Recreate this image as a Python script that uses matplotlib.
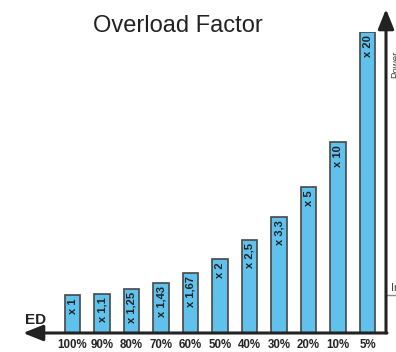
import numpy as np
import matplotlib
matplotlib.use("Agg")
import matplotlib.pyplot as plt
import matplotlib.transforms as mtransforms

plt.rcParams['font.family'] = ['Liberation Sans', 'DejaVu Sans']

# duty cycle (ED) and the allowed overload factor for each one
duty = ["100%", "90%", "80%", "70%", "60%", "50%", "40%", "30%", "20%", "10%", "5%"]
factors = [1, 1.1, 1.25, 1.43, 1.67, 2, 2.5, 3.3, 5, 10, 20]
factor_labels = ["x 1", "x 1,1", "x 1,25", "x 1,43", "x 1,67", "x 2",
                 "x 2,5", "x 3,3", "x 5", "x 10", "x 20"]
# height each factor is drawn at on the power axis (the axis is not linear)
power_levels = [38, 39, 44, 50, 60, 74, 93, 116, 146, 191, 301]

W, H = 396, 352
ink = "#222222"

xp = np.array([0] + factors, dtype=float)
fp = np.array([0] + power_levels, dtype=float)


def to_level(v):
    return np.interp(v, xp, fp)


def from_level(h):
    return np.interp(h, fp, xp)


fig = plt.figure(figsize=(W / 100, H / 100), dpi=100)
ax = fig.add_axes([23 / W, 19 / H, 363 / W, 301 / H])
ax.set_yscale('function', functions=(to_level, from_level))

x = np.arange(len(duty))
ax.bar(x, factors, width=0.54, color="#5FC1EC", edgecolor="#474747", linewidth=1.2)

for xi, v, lab in zip(x, factors, factor_labels):
    ax.annotate(lab, (xi, v), xytext=(0, -2.2), textcoords='offset points',
                rotation=90, ha='center', va='top', fontsize=8,
                fontweight='bold', color=ink)

ax.set_xlim(-1.678, 10.627)
ax.set_ylim(0, 20)
ax.set_xticks(x, duty, fontsize=8.3, fontweight='bold', color=ink)
ax.tick_params(axis='x', length=0, pad=4.2)
ax.set_yticks([])
ax.yaxis.set_minor_locator(matplotlib.ticker.NullLocator())
for s in ax.spines.values():
    s.set_visible(False)

# axis arrows
arrow = dict(arrowstyle='-|>,head_length=1.2,head_width=0.48',
             lw=2.2, color=ink, mutation_scale=10, shrinkA=0, shrinkB=0)
ax.annotate('', xy=(23 / W, 19 / H), xytext=(387 / W, 19 / H),
            xycoords='figure fraction', arrowprops=arrow, annotation_clip=False)
ax.annotate('', xy=(386 / W, 1 - 9 / H), xytext=(386 / W, 19 / H),
            xycoords='figure fraction', arrowprops=arrow, annotation_clip=False)

# rated power mark on the right axis
blend = mtransforms.blended_transform_factory(fig.transFigure, ax.transData)
ax.plot([387 / W, 1.0], [1, 1], transform=blend, color="#8a8a8a", lw=1,
        clip_on=False)
fig.text(391 / W, 1 - 293 / H, "In", fontsize=8, color="#444444",
         ha='left', va='bottom')
fig.text(401 / W, 1 - 78 / H, "Power", fontsize=7, color="#444444",
         rotation=90, ha='left', va='bottom', rotation_mode='anchor')

fig.text(36 / W, 1 - 320.5 / H, "ED", fontsize=11, fontweight='bold',
         color=ink, ha='center', va='center')
fig.text(178 / W, 1 - 26 / H, "Overload Factor", fontsize=17, color=ink,
         ha='center', va='center')

fig.savefig("out.png", dpi=100)
